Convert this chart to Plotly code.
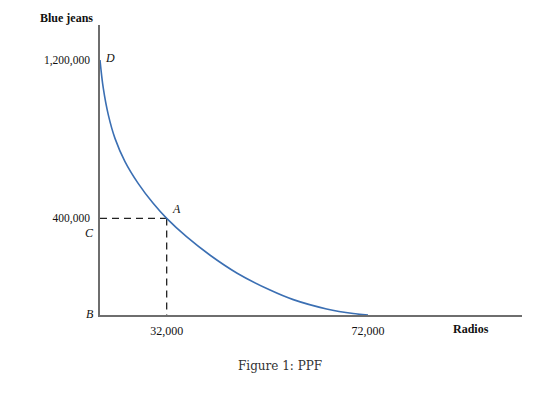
import plotly.graph_objects as go

# ---- chart values (schematic diagram, positions) ----
# PPF curve, in diagram units (x: 0..100 across plot, y: 0..100 up the plot)
curve_x = [0, 0.78, 1.97, 3.55, 5.92, 9.08, 12.6, 15.8, 20.5, 26.1, 32.4, 40.3, 45.8, 53.7, 60.0, 63.5]
curve_y = [87.9, 78.2, 69.0, 60.9, 52.9, 45.3, 38.5, 33.3, 27.0, 20.6, 14.5, 8.6, 5.3, 2.1, 0.5, 0]

# point A
point_a_x = 15.8
point_a_y = 33.3

# tick labels and where they sit on the schematic axes
x_tick_vals = [15.8, 63.5]
x_tick_text = ["32,000", "72,000"]
y_tick_vals = [87.9, 33.3]
y_tick_text = ["1,200,000", "400,000"]

x_title = "Radios"
y_title = "Blue jeans"
caption = "Figure 1: PPF"

point_labels = ["D", "C", "A", "B"]
label_x = [0.007, -0.0095, 0.182, -0.0095]   # paper fraction of plot width
label_y = [0.886, 0.284, 0.366, 0.004]       # paper fraction of plot height
label_anchor = ["left", "right", "center", "right"]

SERIF = "Liberation Serif, Times New Roman, serif"

fig = go.Figure()

# dashed guides to A
fig.add_trace(go.Scatter(x=[0, point_a_x], y=[point_a_y, point_a_y], mode="lines",
                         line=dict(color="#222222", width=1.3, dash="7px,5px"),
                         hoverinfo="skip", showlegend=False))
fig.add_trace(go.Scatter(x=[point_a_x, point_a_x], y=[point_a_y, 0], mode="lines",
                         line=dict(color="#222222", width=1.3, dash="7px,5px"),
                         hoverinfo="skip", showlegend=False))

# PPF curve
fig.add_trace(go.Scatter(x=curve_x, y=curve_y, mode="lines",
                         line=dict(color="#3b6fb3", width=1.6, shape="spline", smoothing=1.0),
                         showlegend=False))

annotations = []
for t, x, y, a in zip(point_labels, label_x, label_y, label_anchor):
    annotations.append(dict(x=x, y=y, xref="paper", yref="paper", text=f"<i>{t}</i>",
                            showarrow=False, xanchor=a, yanchor="middle",
                            font=dict(family=SERIF, size=12, color="#111111")))
annotations.append(dict(x=-0.012, y=1.024, xref="paper", yref="paper", text=f"<b>{y_title}</b>",
                        showarrow=False, xanchor="right", yanchor="middle",
                        font=dict(family=SERIF, size=12, color="#111111")))
annotations.append(dict(x=0.879, y=-0.048, xref="paper", yref="paper", text=f"<b>{x_title}</b>",
                        showarrow=False, xanchor="center", yanchor="middle",
                        font=dict(family=SERIF, size=12, color="#111111")))
annotations.append(dict(x=0.427, y=-0.176, xref="paper", yref="paper", text=caption,
                        showarrow=False, xanchor="center", yanchor="middle",
                        font=dict(family="DejaVu Serif, serif", size=12, color="#333333")))

fig.update_layout(
    width=560, height=401,
    margin=dict(l=100, r=38, t=25, b=86),
    paper_bgcolor="white", plot_bgcolor="white",
    annotations=annotations,
    xaxis=dict(range=[0, 100], showgrid=False, zeroline=False,
               showline=True, linecolor="#6e6e6e", linewidth=1.5,
               tickmode="array", tickvals=x_tick_vals, ticktext=x_tick_text,
               ticks="", ticklabelstandoff=4,
               tickfont=dict(family=SERIF, size=12, color="#111111")),
    yaxis=dict(range=[0, 100], showgrid=False, zeroline=False,
               showline=True, linecolor="#6e6e6e", linewidth=1.5,
               tickmode="array", tickvals=y_tick_vals, ticktext=y_tick_text,
               ticks="", ticklabelstandoff=6,
               tickfont=dict(family=SERIF, size=11.5, color="#111111")),
)

fig.write_html("out.html")
